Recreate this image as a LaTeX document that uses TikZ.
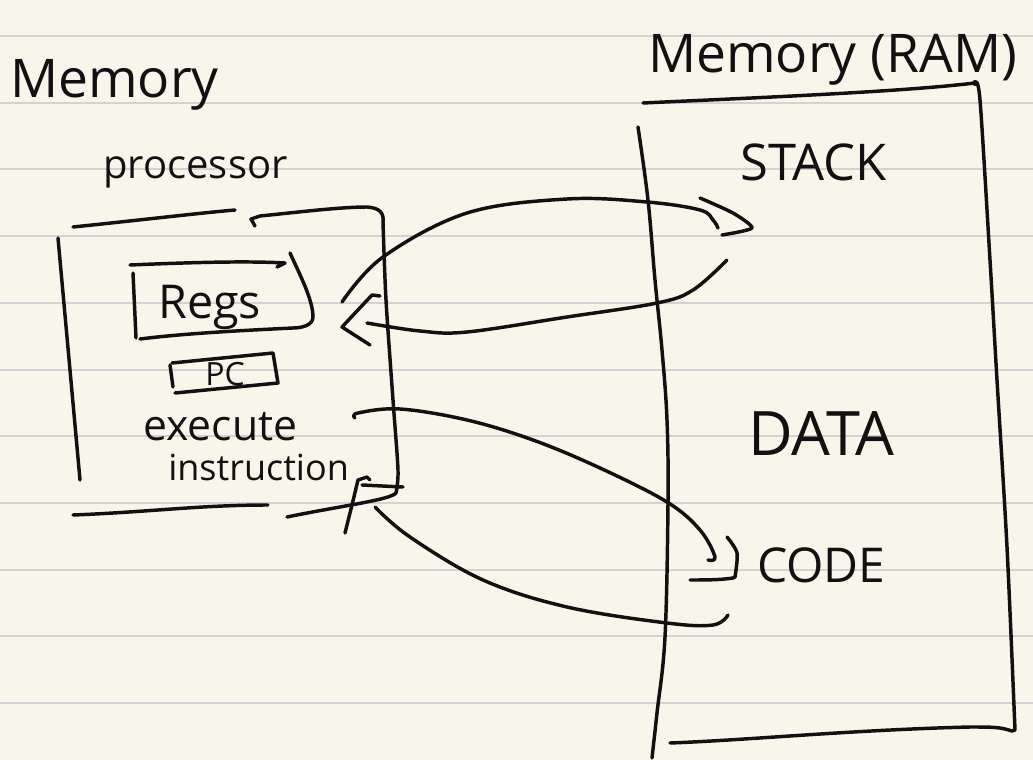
\documentclass[tikz,border=0pt]{standalone}
\usepackage{fontspec}
\setmainfont{Open Sans}
\definecolor{paper}{HTML}{F8F6EA}
\definecolor{rulecol}{HTML}{D3D3D3}
\definecolor{inkcol}{HTML}{111111}
\begin{document}
\begin{tikzpicture}[x=0.75pt,y=-0.75pt,
  ink/.style={draw=inkcol,line width=2.6pt,line cap=round,line join=round},
  lbl/.style={inner sep=0pt,anchor=base west,text=inkcol}]
\fill[paper] (0,0) rectangle (1033,760);
\useasboundingbox (0,0) rectangle (1033,760);
% ruled paper
\foreach \k in {0,...,10} \draw[rulecol,line width=1.5pt] (0,{36+66.7*\k}) -- (1033,{36+66.7*\k});

% labels
\node[lbl,font=\fontsize{40}{40}\selectfont] (mem) at (10,97) {Memory};
\node[lbl,font=\fontsize{30}{30}\selectfont] (proc) at (103,178) {processor};
\node[lbl,font=\fontsize{40}{40}\selectfont] (ram) at (648,72) {Memory (RAM)};
\node[lbl,font=\fontsize{38}{38}\selectfont] (stack) at (740,180) {STACK};
\node[lbl,font=\fontsize{35}{35}\selectfont] (regs) at (158,318) {Regs};
\node[lbl,font=\fontsize{24}{24}\selectfont] (pc) at (205,385) {PC};
\node[lbl,font=\fontsize{32}{32}\selectfont] (exec) at (143,440) {execute};
\node[lbl,font=\fontsize{27}{27}\selectfont] (instr) at (168,480) {instruction};
\node[lbl,font=\fontsize{46}{46}\selectfont] (data) at (748,455) {DATA};
\node[lbl,font=\fontsize{36}{36}\selectfont] (code) at (757,582) {CODE};

% processor box
\draw[ink] (73,227) .. controls (150,219) and (200,213) .. (235,210);
\draw[ink] (255,226) -- (251,219) -- (260,216) .. controls (300,212) and (340,207) .. (367,207)
  .. controls (380,208) and (384,213) .. (383,222)
  plot[smooth,tension=0.5] coordinates {(383,222) (386,300) (393,400) (398,470) (396,493)}
  .. controls (390,500) and (340,506) .. (287,517);
\draw[ink] (58,238) -- (80,480);
\draw[ink] (73,515) .. controls (150,512) and (200,505) .. (268,505);

% Regs box
\draw[ink] (130,265) .. controls (200,262) and (250,261) .. (285,263) -- (277,267);
\draw[ink] (290,253) .. controls (300,275) and (313,300) .. (313,317)
  .. controls (313,326) and (300,328) .. (293,328) .. controls (230,331) and (180,334) .. (140,339);
\draw[ink] (133,273) -- (136,338);

% PC box
\draw[ink] (172,363) -- (273,353) -- (278,383) -- (175,393);
\draw[ink] (170,365) -- (173,387);

% Memory (RAM) box
\draw[ink] (643,103) .. controls (750,98) and (900,92) .. (975,83);
\fill[inkcol] (975,83) circle (3);
\draw[ink] plot[smooth,tension=0.5] coordinates {(975,83) (980,100) (990,260) (997,380) (1007,547) (1015,730)}
  -- (1012,731) .. controls (1000,727) and (993,727) .. (970,727) .. controls (850,730) and (750,740) .. (670,743);
\draw[ink] plot[smooth,tension=0.6] coordinates {(638,127) (648,200) (655,280) (662,350) (667,420) (668,503) (665,637) (657,713) (652,758)};

% Regs -> STACK
\draw[ink] plot[smooth,tension=0.6] coordinates {(342,302) (383,257) (467,213) (567,199) (647,202) (700,210) (713,220) (718,228)};
\draw[ink] plot[smooth,tension=0.4] coordinates {(700,198) (733,213) (752,228) (722,235)};

% STACK -> Regs
\draw[ink] plot[smooth,tension=0.6] coordinates {(727,260) (693,290) (657,303) (567,317) (467,332) (420,331) (367,323)};
\draw[ink] (380,296) -- (372,295) -- (342,327) -- (370,345);

% execute -> CODE
\draw[ink] plot[smooth,tension=0.6] coordinates {(355,418) (358,413) (400,409) (467,420) (533,440) (600,468) (667,502) (700,530) (715,557) (708,560)};
\draw[ink] plot[smooth,tension=0.5] coordinates {(727,537) (737,553) (735,577)} -- (733,578) .. controls (720,580) and (705,580) .. (690,580);

% CODE -> execute
\draw[ink] plot[smooth,tension=0.6] coordinates {(728,615) (713,625) (667,623) (567,607) (483,580) (410,537) (375,507)};
\draw[ink] (345,533) -- (352,505) -- (358,480) -- (367,477) -- (370,480);
\draw[ink] (362,485) -- (403,487);
\end{tikzpicture}
\end{document}
